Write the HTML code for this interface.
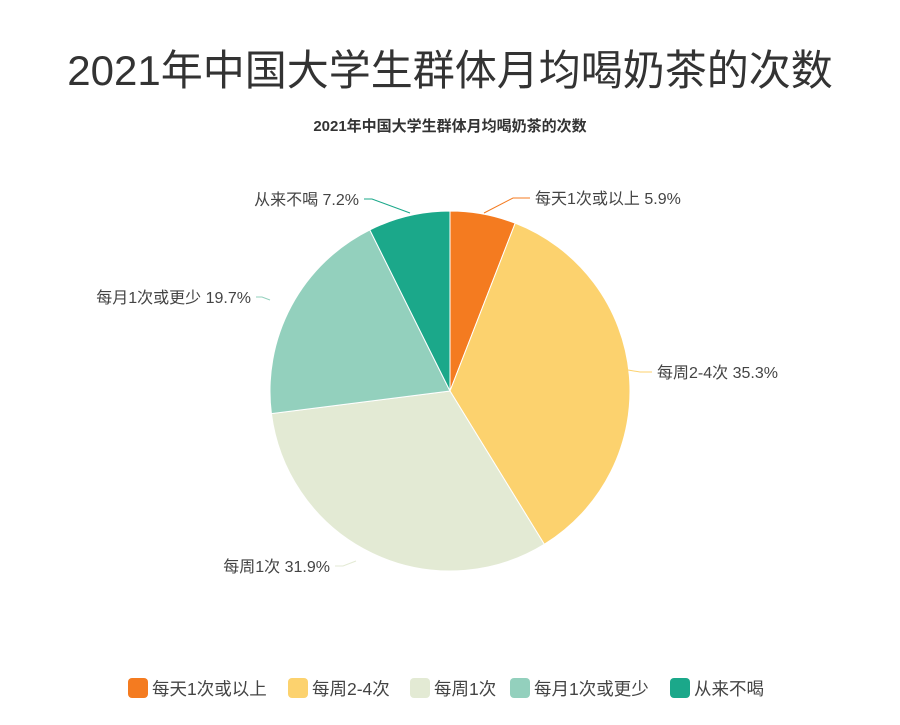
<!DOCTYPE html>
<html><head><meta charset="utf-8"><style>
body{margin:0;background:#fff;width:900px;height:720px;overflow:hidden;font-family:"Liberation Sans","Noto Sans CJK SC",sans-serif}
</style></head><body>
<svg width="900" height="720" xmlns="http://www.w3.org/2000/svg" style="font-family:'Liberation Sans','Noto Sans CJK SC',sans-serif">
<text x="450" y="85" font-size="42" fill="#333" text-anchor="middle">2021年中国大学生群体月均喝奶茶的次数</text>
<text x="450" y="131" font-size="15" font-weight="bold" fill="#333" text-anchor="middle">2021年中国大学生群体月均喝奶茶的次数</text>
<g stroke="#fff" stroke-width="1">
<path d="M450,391 L450,211 A180,180 0 0 1 515.2,223.2 Z" fill="#f47b20"/>
<path d="M450,391 L515.2,223.2 A180,180 0 0 1 544.3,544.3 Z" fill="#fcd26e"/>
<path d="M450,391 L544.3,544.3 A180,180 0 0 1 271.4,413.6 Z" fill="#e3ead4"/>
<path d="M450,391 L271.4,413.6 A180,180 0 0 1 369.8,229.9 Z" fill="#93d0bd"/>
<path d="M450,391 L369.8,229.9 A180,180 0 0 1 450,211 Z" fill="#1ba88a"/>
</g>
<g fill="none" stroke-width="1">
<polyline points="484,213 513,198 530,198" stroke="#f47b20"/>
<polyline points="410,213 372,199 364,199" stroke="#1ba88a"/>
<polyline points="270,300 262,297 256,297" stroke="#93d0bd"/>
<polyline points="628,370 640,372 652,372" stroke="#fcd26e"/>
<polyline points="356,561 343,566 335,566" stroke="#e3ead4"/>
</g>
<g font-size="16" fill="#444">
<text x="535" y="204">每天1次或以上 5.9%</text>
<text x="359" y="205" text-anchor="end">从来不喝 7.2%</text>
<text x="251" y="303" text-anchor="end">每月1次或更少 19.7%</text>
<text x="657" y="378">每周2-4次 35.3%</text>
<text x="330" y="572" text-anchor="end">每周1次 31.9%</text>
</g>
<g font-size="17.5" fill="#444">
<rect x="128" y="678" width="20" height="20" rx="4" fill="#f47b20"/><text x="152" y="695">每天1次或以上</text>
<rect x="288" y="678" width="20" height="20" rx="4" fill="#fcd26e"/><text x="312" y="695">每周2-4次</text>
<rect x="410" y="678" width="20" height="20" rx="4" fill="#e3ead4"/><text x="434" y="695">每周1次</text>
<rect x="510" y="678" width="20" height="20" rx="4" fill="#93d0bd"/><text x="534" y="695">每月1次或更少</text>
<rect x="670" y="678" width="20" height="20" rx="4" fill="#1ba88a"/><text x="694" y="695">从来不喝</text>
</g>
</svg>
</body></html>
